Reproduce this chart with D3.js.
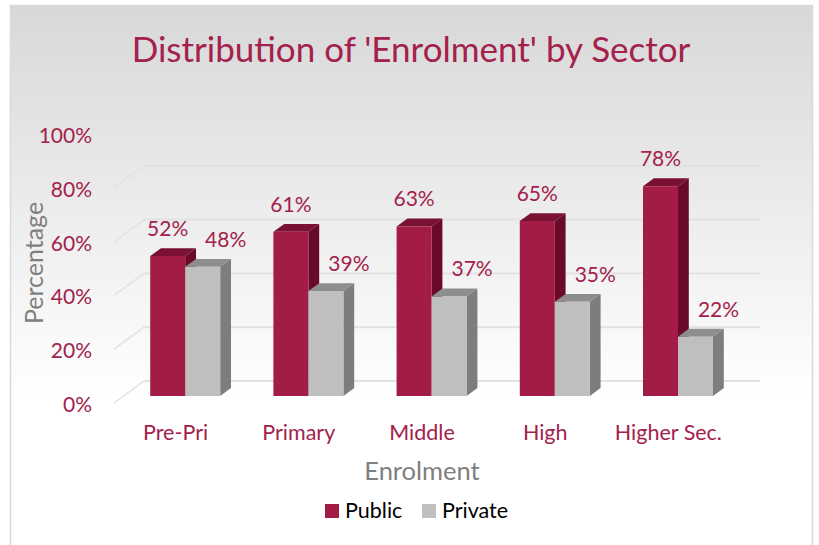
<!DOCTYPE html>
<html>
<head>
<meta charset="utf-8">
<script src="https://cdn.jsdelivr.net/npm/d3@7"></script>
<style>
  body { margin: 0; background: #fff; }
  text { font-family: Lato, "Noto Sans", sans-serif; }
</style>
</head>
<body>
<div id="vis"></div>
<script>
// Data ----------------------------------------------------------------------

var categories = ["Pre-Pri", "Primary", "Middle", "High", "Higher Sec."];
var series = ["Public", "Private"];
var publicValues = [0.52, 0.61, 0.63, 0.65, 0.78];
var privateValues = [0.48, 0.39, 0.37, 0.35, 0.22];
var yTicks = [0, 0.2, 0.4, 0.6, 0.8, 1.0];

var width = 819, height = 545;

var textRed = "#a3214b";
var faces = {
  Public:  { front: "#a21c46", top: "#7a1133", side: "#690a2b" },
  Private: { front: "#bfbfbf", top: "#8e8e8e", side: "#7d7d7d" }
};

// 3D projection: depth z from 0 (front) to 1 (back wall)
var depthX = 30, depthY = -22;
function proj(x, y, z) { return [x + z * depthX, y + z * depthY]; }

// Scales --------------------------------------------------------------------

var x = d3.scaleBand()
  .domain(categories)
  .range([114, 730]);

var xs = d3.scaleBand()
  .domain(series)
  .range([-35, 35]);

var y = d3.scaleLinear()
  .domain([0, 1])
  .range([403, 134]);

var fmt = d3.format(".0%");

// SVG -----------------------------------------------------------------------

var svg = d3.select("#vis").append("svg")
  .attr("width", width)
  .attr("height", height);

var grad = svg.append("defs").append("linearGradient")
  .attr("id", "bg")
  .attr("x1", 0).attr("y1", 0).attr("x2", 0).attr("y2", 1);
grad.append("stop").attr("offset", "0%").attr("stop-color", "#d8d8d8");
grad.append("stop").attr("offset", "72%").attr("stop-color", "#ffffff");
grad.append("stop").attr("offset", "100%").attr("stop-color", "#ffffff");

svg.append("rect")
  .attr("x", 10.5).attr("y", 5.5)
  .attr("width", 802).attr("height", 545)
  .attr("fill", "url(#bg)")
  .attr("stroke", "#d9d9d9")
  .attr("stroke-width", 1.5);

// Title
svg.append("text")
  .attr("x", 411)
  .attr("y", 62)
  .attr("text-anchor", "middle")
  .attr("fill", textRed)
  .style("font-size", "35px")
  .text("Distribution of 'Enrolment' by Sector");

// Gridlines (side wall + back wall)
var grid = svg.append("g").attr("class", "grid");
var x0 = x.range()[0], x1 = x.range()[1];

grid.selectAll(".side")
  .data(yTicks)
  .enter().append("line")
  .attr("x1", function(d) { return proj(x0, y(d), 0)[0]; })
  .attr("y1", function(d) { return proj(x0, y(d), 0)[1]; })
  .attr("x2", function(d) { return proj(x0, y(d), 1)[0]; })
  .attr("y2", function(d) { return proj(x0, y(d), 1)[1]; })
  .attr("stroke", "#e2e2e2")
  .attr("stroke-width", 1.5);

grid.selectAll(".back")
  .data(yTicks)
  .enter().append("line")
  .attr("x1", function(d) { return proj(x0, y(d), 1)[0]; })
  .attr("y1", function(d) { return proj(x0, y(d), 1)[1]; })
  .attr("x2", function(d) { return proj(x1, y(d), 1)[0]; })
  .attr("y2", function(d) { return proj(x1, y(d), 1)[1]; })
  .attr("stroke", "#e2e2e2")
  .attr("stroke-width", 2);

// Y tick labels
svg.append("g").selectAll("text")
  .data(yTicks)
  .enter().append("text")
  .attr("x", 92)
  .attr("y", function(d) { return y(d) + 9; })
  .attr("text-anchor", "end")
  .attr("fill", textRed)
  .style("font-size", "21px")
  .text(function(d) { return fmt(d); });

// Category labels
svg.append("g").selectAll("text")
  .data(categories)
  .enter().append("text")
  .attr("x", function(d) { return x(d) + x.bandwidth() / 2; })
  .attr("y", 440)
  .attr("text-anchor", "middle")
  .attr("fill", textRed)
  .style("font-size", "21.5px")
  .text(function(d) { return d; });

// Axis titles
svg.append("text")
  .attr("transform", "translate(43,263) rotate(-90)")
  .attr("text-anchor", "middle")
  .attr("fill", "#7f7f7f")
  .style("font-size", "25px")
  .text("Percentage");

svg.append("text")
  .attr("x", 422)
  .attr("y", 480)
  .attr("text-anchor", "middle")
  .attr("fill", "#7f7f7f")
  .style("font-size", "25.5px")
  .text("Enrolment");

// Bars ----------------------------------------------------------------------

var z0 = 0.32, z1 = 0.68;

var bars = [];
categories.forEach(function(c, i) {
  bars.push({ cat: c, key: "Public", value: publicValues[i] });
  bars.push({ cat: c, key: "Private", value: privateValues[i] });
});

function poly(pts) { return pts.map(function(p) { return p.join(","); }).join(" "); }

svg.append("g").selectAll("g")
  .data(bars)
  .enter().append("g")
  .each(function(d) {
    var g = d3.select(this);
    var xl = x(d.cat) + x.bandwidth() / 2 + xs(d.key),
        xr = xl + xs.bandwidth(),
        yt = y(d.value), yb = y(0);
    var f = faces[d.key];
    g.append("polygon")
      .attr("points", poly([proj(xl, yt, z0), proj(xr, yt, z0), proj(xr, yt, z1), proj(xl, yt, z1)]))
      .attr("fill", f.top);
    g.append("polygon")
      .attr("points", poly([proj(xr, yt, z0), proj(xr, yt, z1), proj(xr, yb, z1), proj(xr, yb, z0)]))
      .attr("fill", f.side);
    g.append("polygon")
      .attr("points", poly([proj(xl, yt, z0), proj(xr, yt, z0), proj(xr, yb, z0), proj(xl, yb, z0)]))
      .attr("fill", f.front);
  });

// Value labels
svg.append("g").selectAll("text")
  .data(bars)
  .enter().append("text")
  .attr("x", function(d) {
    var c = x(d.cat) + x.bandwidth() / 2 + xs(d.key) + xs.bandwidth() / 2 + z0 * depthX;
    return d.key === "Private" ? c + 23 : c;
  })
  .attr("y", function(d) { return proj(0, y(d.value), z0)[1] - 20; })
  .attr("text-anchor", "middle")
  .attr("fill", textRed)
  .style("font-size", "21px")
  .text(function(d) { return fmt(d.value); });

// Legend --------------------------------------------------------------------

var legendX = { Public: 325, Private: 422 };
var legend = svg.append("g").selectAll("g")
  .data(series)
  .enter().append("g")
  .attr("transform", function(d) { return "translate(" + legendX[d] + ",504)"; });

legend.append("rect")
  .attr("width", 14).attr("height", 14)
  .attr("fill", function(d) { return faces[d].front; });

legend.append("text")
  .attr("x", 20)
  .attr("y", 13.5)
  .attr("fill", "#000")
  .style("font-size", "21.5px")
  .text(function(d) { return d; });
</script>
</body>
</html>
